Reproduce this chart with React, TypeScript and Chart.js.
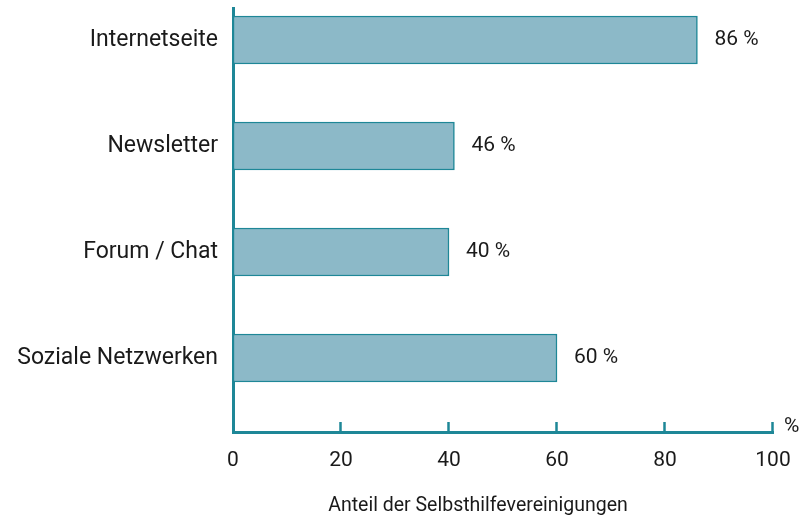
import React, { useEffect, useRef } from "react";
import { Chart, registerables } from "chart.js";

Chart.register(...registerables);

const categories = ["Internetseite", "Newsletter", "Forum / Chat", "Soziale Netzwerken"];
const barValues = [86, 41, 40, 60];
const valueLabels = ["86 %", "46 %", "40 %", "60 %"];
const xTicks = [0, 20, 40, 60, 80, 100];
const axisTitle = "Anteil der Selbsthilfevereinigungen";
const unitLabel = "%";

const FONT = "Roboto, 'Noto Sans', sans-serif";
const TEAL = "#1e8797";
const FILL = "#8cb9c8";
const TEXT = "#1a1a1a";

export default function App() {
  const ref = useRef<HTMLCanvasElement | null>(null);

  useEffect(() => {
    document.body.style.margin = "0";
    const canvas = ref.current;
    if (!canvas) return;

    const overlay = {
      id: "overlay",
      afterDraw(chart: any) {
        const ctx = chart.ctx;
        const xs = chart.scales.x;
        const ys = chart.scales.y;
        const area = chart.chartArea;
        ctx.save();
        ctx.strokeStyle = TEAL;
        ctx.lineWidth = 2.5;
        xTicks.forEach((t) => {
          if (t === 0) return;
          const px = Math.round(xs.getPixelForValue(t)) - 0.5;
          ctx.beginPath();
          ctx.moveTo(px, area.bottom);
          ctx.lineTo(px, area.bottom - 10);
          ctx.stroke();
        });
        ctx.fillStyle = TEXT;
        ctx.font = `21px ${FONT}`;
        ctx.textAlign = "left";
        ctx.textBaseline = "middle";
        barValues.forEach((v, i) => {
          const px = xs.getPixelForValue(v);
          const py = ys.getPixelForValue(i);
          ctx.fillText(valueLabels[i], px + 17, py);
        });
        ctx.fillText(unitLabel, area.right + 11, area.bottom - 5);
        ctx.font = `19.5px ${FONT}`;
        ctx.textAlign = "center";
        ctx.fillText(axisTitle, 478, 506);
        ctx.restore();
      },
    };

    const chart = new Chart(canvas, {
      type: "bar",
      data: {
        labels: categories,
        datasets: [
          {
            data: barValues.map((v, i) => ({ x: v, y: i })),
            backgroundColor: FILL,
            borderColor: TEAL,
            borderWidth: 1.5,
            borderSkipped: false,
            barThickness: 48,
          },
        ],
      },
      options: {
        indexAxis: "y",
        responsive: false,
        animation: false,
        layout: { padding: { top: 8, right: 34, left: 0, bottom: 0 } },
        plugins: { legend: { display: false }, tooltip: { enabled: false } },
        scales: {
          x: {
            type: "linear",
            min: 0,
            max: 100,
            offset: false,
            afterBuildTicks(scale: any) {
              scale.ticks = xTicks.map((v) => ({ value: v }));
            },
            afterFit(scale: any) {
              scale.height = 87;
              scale.paddingLeft = 0;
              scale.paddingRight = 0;
            },
            grid: { display: false, drawTicks: false },
            border: { display: true, color: TEAL, width: 3 },
            ticks: {
              color: TEXT,
              font: { family: FONT, size: 21 },
              padding: 16,
              maxRotation: 0,
            },
          },
          y: {
            type: "linear",
            reverse: true,
            offset: false,
            bounds: "data",
            min: -0.302,
            max: 3.698,
            afterBuildTicks(scale: any) {
              scale.ticks = categories.map((_, i) => ({ value: i }));
            },
            afterFit(scale: any) {
              scale.width = 233;
              scale.paddingTop = 0;
              scale.paddingBottom = 0;
            },
            grid: { display: false, drawTicks: false, offset: false },
            border: { display: true, color: TEAL, width: 3 },
            ticks: {
              color: TEXT,
              font: { family: FONT, size: 23 },
              padding: 15,
              callback: (v: any) => categories[v as number] ?? "",
            },
          },
        },
      },
      plugins: [overlay],
    });

    return () => chart.destroy();
  }, []);

  return <canvas ref={ref} width={807} height={519} style={{ display: "block" }} />;
}
